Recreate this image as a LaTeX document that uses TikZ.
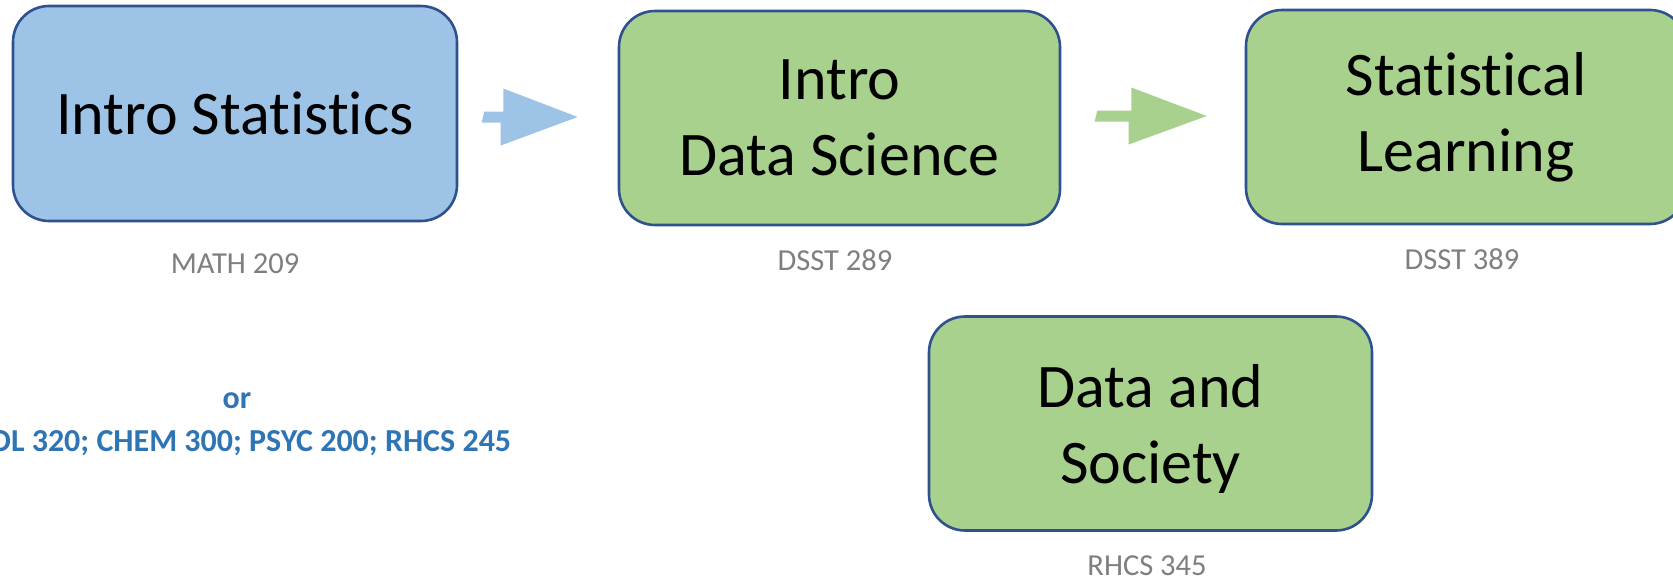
\documentclass[tikz,border=0pt]{standalone}
\usepackage{fontspec}
\setmainfont{Carlito}[Ligatures=NoCommon]
\usetikzlibrary{calc}
\definecolor{edgeblue}{HTML}{2F528F}
\definecolor{fillblue}{HTML}{9DC3E6}
\definecolor{fillgreen}{HTML}{A9D18E}
\definecolor{codegray}{HTML}{7F7F7F}
\definecolor{textblue}{HTML}{2E75B6}
\tikzset{
  course/.style={draw=edgeblue, line width=2.6pt, rounded corners=36pt,
    inner sep=0pt, align=center, text=black,
    font=\fontsize{62}{76}\selectfont},
  coursecode/.style={anchor=base, inner sep=0pt, text=codegray,
    font=\fontsize{30.5}{36}\selectfont},
  alttext/.style={anchor=base, inner sep=0pt, text=textblue,
    font=\fontsize{32}{40}\selectfont\bfseries},
}
\begin{document}
\begin{tikzpicture}[x=1pt, y=-1pt]
  \clip (0,0) rectangle (1673,581);
  \fill[white] (0,0) rectangle (1673,581);

  % course boxes
  \node[course, fill=fillblue, minimum width=444pt, minimum height=215pt]
    (stat) at (235,113.5) {Intro Statistics};
  \node[course, fill=fillgreen, minimum width=441pt, minimum height=214pt]
    (ids) at (839.5,118) {Intro\\Data Science};
  \node[course, fill=fillgreen, minimum width=440pt, minimum height=214pt]
    (sl) at (1466,117) {Statistical\\Learning};
  \node[course, fill=fillgreen, minimum width=443pt, minimum height=214pt,
    text depth=0pt] (ds) at (1150.5,423.5) {Data and\\Society};

  % course numbers
  \node[coursecode] (statcode) at (235,273) {MATH 209};
  \node[coursecode] (idscode) at (835,270) {DSST 289};
  \node[coursecode] (slcode) at (1462,269) {DSST 389};
  \node[coursecode] (dscode) at (1147,575) {RHCS 345};

  % alternative prerequisites
  \node[alttext] (or) at (237,408.5) {or};
  \node[alttext] (alts) at (237,451) {BIOL 320; CHEM 300; PSYC 200; RHCS 245};

  % block arrows between the boxes
  \coordinate (a1s) at ($(stat.east)+(26,3.5)$);
  \coordinate (a1e) at ($(ids.west)+(-40,-1)$);
  \fill[fillblue] (a1s) ++(0,-5.5) -- ++(19,0) -- ++(0,-23) -- (a1e)
    -- ++(-77,28.5) -- ++(0,-23) -- ++(-19,0) -- cycle;

  \coordinate (a2s) at ($(ids.east)+(36,-2)$);
  \coordinate (a2e) at ($(sl.west)+(-38,-1)$);
  \fill[fillgreen] (a2s) ++(0,-5.5) -- ++(34,0) -- ++(0,-23) -- (a2e)
    -- ++(-78,28.5) -- ++(0,-23) -- ++(-34,0) -- cycle;
\end{tikzpicture}
\end{document}
